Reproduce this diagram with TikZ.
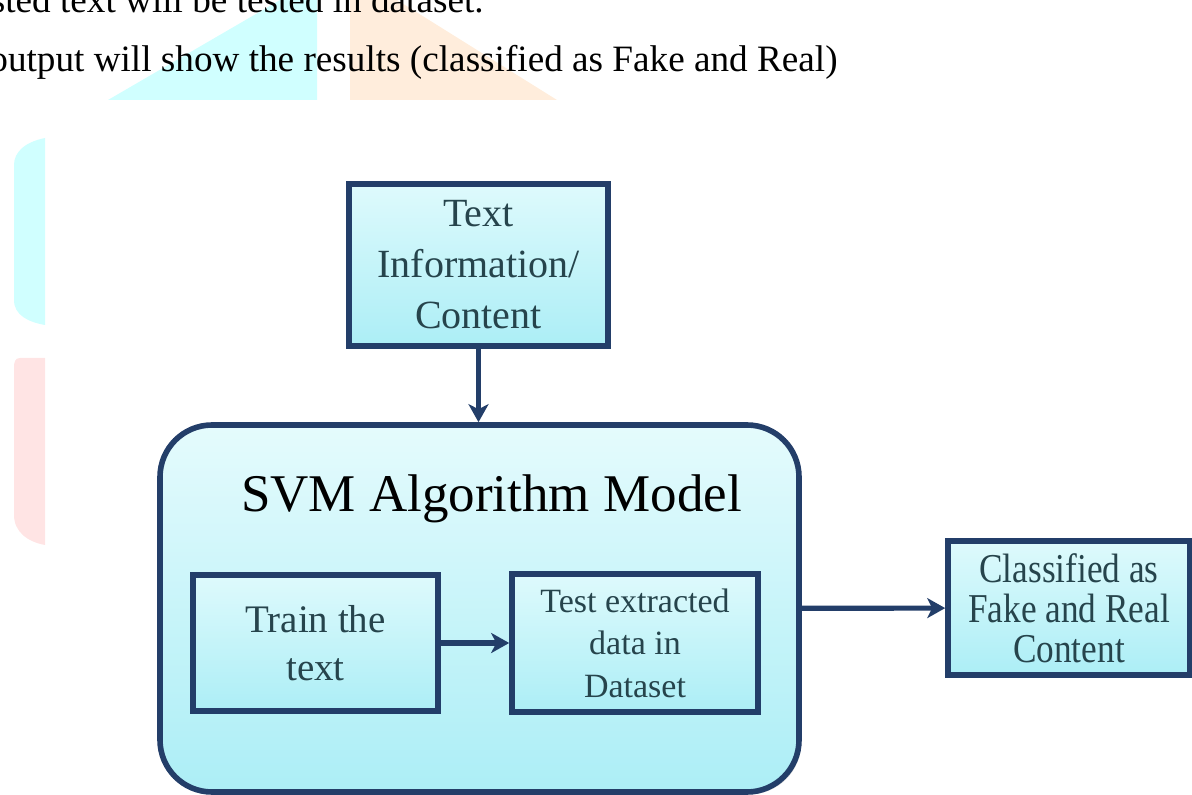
\documentclass[tikz,border=0pt]{standalone}
\usepackage{fontspec}
\setmainfont{Liberation Serif}
\newfontfamily\tallserif[FakeStretch=0.86]{Liberation Serif}
\usetikzlibrary{arrows.meta,shadows}
\definecolor{boxline}{RGB}{35,62,105}
\definecolor{boxtext}{RGB}{38,68,76}
\definecolor{boxtop}{RGB}{222,250,252}
\definecolor{boxbot}{RGB}{172,238,246}
\definecolor{marksky}{RGB}{208,255,255}
\definecolor{markpeach}{RGB}{255,237,220}
\definecolor{markrose}{RGB}{255,228,228}

\begin{document}
\begin{tikzpicture}[x=0.5pt, y=-0.5pt,
  blk/.style={draw=boxline, line width=2.8pt, top color=boxtop, bottom color=boxbot,
    text=boxtext, align=center, inner sep=0pt,
    drop shadow={shadow xshift=1.2pt, shadow yshift=-1.2pt, opacity=0.3}},
  runtext/.style={anchor=base east, inner sep=0pt, font=\fontsize{18.6pt}{22pt}\selectfont},
  flow/.style={draw=boxline, line width=2.6pt, -{Stealth[length=9pt,width=10pt,inset=2.5pt]}}]
  \useasboundingbox (0,0) rectangle (1192,795);
  \clip (0,0) rectangle (1192,795);

  % faint marks behind the text
  \fill[marksky] (108,100) -- (317,100) -- (317,0) -- (280,0) -- cycle;
  \fill[markpeach] (350,0) -- (350,100) -- (557,100) -- (397,0) -- cycle;
  \fill[marksky] (45,138) .. controls (25,142) and (14,152) .. (14,165) -- (14,300)
    .. controls (14,315) and (28,322) .. (45,325) -- cycle;
  \fill[markrose] (45,358) -- (20,358) .. controls (15,358) and (14,362) .. (14,368) -- (14,515)
    .. controls (14,532) and (28,542) .. (45,545) -- cycle;

  % running text above
  \node[runtext] (line1) at (484,13) {sted text will be tested in dataset.};
  \node[runtext] (line2) at (838,72) {output will show the results (classified as Fake and Real)};

  % input
  \node[blk, minimum width=129.5pt, minimum height=81pt, font=\fontsize{20pt}{25.5pt}\selectfont] (info) at (478.5,265) {Text\\Information/\\Content};

  % model block
  \node[blk, rounded corners=26pt, minimum width=319.5pt, minimum height=183.5pt,
    top color=boxtop!80!white, bottom color=boxbot] (svm) at (479.5,608.5) {};
  \node[anchor=base, font=\fontsize{26.5pt}{30pt}\selectfont] (title) at (491.5,512) {SVM Algorithm Model};
  \node[blk, minimum width=122.5pt, minimum height=68pt, font=\fontsize{19.5pt}{24pt}\selectfont] (train) at (315.5,643) {Train the\\text};
  \node[blk, minimum width=123pt, minimum height=69pt, font=\fontsize{17pt}{21.25pt}\selectfont] (test) at (635,643) {Test extracted\\data in\\Dataset};

  % output
  \node[blk, minimum width=121pt, minimum height=67pt, font=\tallserif\fontsize{20.5pt}{20pt}\selectfont] (out) at (1069,608) {Classified as\\Fake and Real\\Content};

  \draw[flow] (info.south) -- (info.south |- svm.north);
  \draw[flow] (train) -- (test);
  \draw[flow] (svm) -- (out);
\end{tikzpicture}
\end{document}
